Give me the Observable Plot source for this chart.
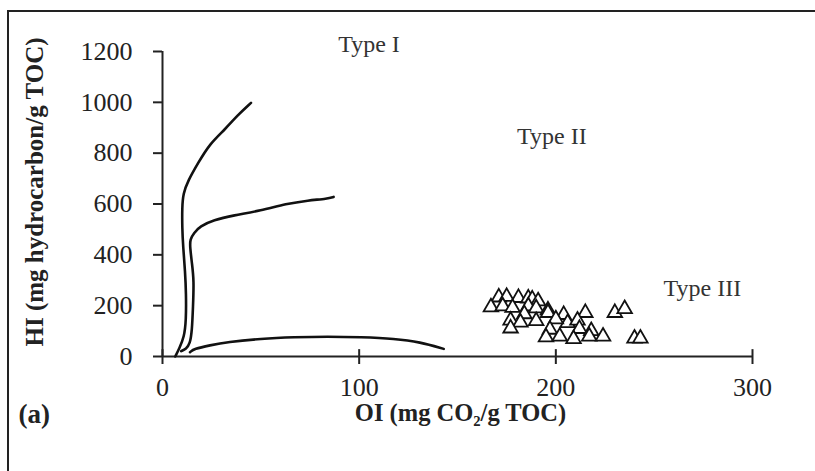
<!DOCTYPE html>
<html>
<head>
<meta charset="utf-8">
<script src="https://cdn.jsdelivr.net/npm/d3@7"></script>
<script src="https://cdn.jsdelivr.net/npm/@observablehq/plot@0.6"></script>
<style>
  html, body { margin: 0; padding: 0; background: #fff; }
  #wrap { position: relative; width: 815px; height: 471px; overflow: hidden; background: #fff; }
  #frame { position: absolute; left: 7px; top: 10px; right: -20px; bottom: -20px;
           border-top: 2.5px solid #222; border-left: 2.5px solid #222; pointer-events: none; }
  #chart { position: absolute; left: 0; top: 0; }
</style>
</head>
<body>
<div id="wrap"><div id="chart"></div><div id="frame"></div></div>
<script>
// Axis ticks
const oiTicks = [0, 100, 200, 300];
const hiTicks = [0, 200, 400, 600, 800, 1000, 1200];

// Kerogen type boundary curves (OI, HI)
const curveTypeI = [[45,998],[38,948],[32,895],[24,837],[18,760],[13,692],[10.5,640],[10,588],[10,507],[10.5,430],[11.5,334],[12,248],[12,142],[11,76],[8.5,31],[6.5,0]];
const curveTypeII = [[87,628],[84,621],[74,614],[63,601],[50,574],[36,555],[26,537],[19,512],[16,486],[14,461],[14,430],[15,365],[16,299],[15.5,193],[15,102],[14,50],[12,30],[9.5,21]];
const curveTypeIII = [[14,17],[16,30],[24,44],[33,57],[50,70],[67,76],[84,79],[101,76],[118,70],[131,57],[143,30]];

// Samples (OI, HI)
const samplesOI = [171,175,181,186,188,191, 167,173,178,186,190,196, 196,204,215,184, 177,182,190,206,211,200, 177,197,212,218, 195,202,209,217,224, 230,235,240,243];
const samplesHI = [233,235,231,229,225,218, 194,198,192,198,190,182, 172,164,172,167, 142,134,140,132,142,147, 111,106,109,101, 76,79,69,79,79, 172,187,71,71];

// Region labels
const typeNames = ["Type I", "Type II", "Type III"];
const typeOI = [105, 198, 274.5];
const typeHI = [1229, 867, 267];

const xLabel = "OI (mg CO\u2082/g TOC)";
const yLabel = "HI (mg hydrocarbon/g TOC)";
const panelLabel = "(a)";

const samples = samplesOI.map((oi, i) => ({oi, hi: samplesHI[i]}));
const types = typeNames.map((name, i) => ({name, oi: typeOI[i], hi: typeHI[i]}));

const ink = "#222";
const chart = Plot.plot({
  width: 815,
  height: 471,
  marginLeft: 162,
  marginRight: 63,
  marginTop: 51,
  marginBottom: 115,
  x: {domain: [0, 300]},
  y: {domain: [0, 1200]},
  style: {fontFamily: "'Liberation Serif', 'Times New Roman', serif", fontSize: "26px", color: ink, background: "transparent", overflow: "visible"},
  marks: [
    Plot.axisY(hiTicks, {tickSize: 9, tickPadding: 21, label: null, strokeWidth: 2, fontSize: 26, tickFormat: d => String(d)}),
    Plot.axisX(oiTicks, {tickSize: 8, tickPadding: 13, label: null, strokeWidth: 2, fontSize: 26, tickFormat: d => String(d)}),
    Plot.ruleX(oiTicks, {x: d => d, y1: 0, y2: 27, strokeWidth: 2, stroke: ink}),
    Plot.ruleY([0], {x1: 0, x2: 300, strokeWidth: 2, stroke: ink}),
    Plot.ruleX([0], {y1: 0, y2: 1200, strokeWidth: 2, stroke: ink}),
    Plot.line(curveTypeI, {x: d => d[0], y: d => d[1], curve: "basis", stroke: "#111", strokeWidth: 2.6}),
    Plot.line(curveTypeII, {x: d => d[0], y: d => d[1], curve: "basis", stroke: "#111", strokeWidth: 2.6}),
    Plot.line(curveTypeIII, {x: d => d[0], y: d => d[1], curve: "basis", stroke: "#111", strokeWidth: 2.6}),
    Plot.dot(samples, {x: "oi", y: "hi", symbol: "triangle", r: 5.4, fill: "white", stroke: "#111", strokeWidth: 1.8}),
    Plot.text(types, {x: "oi", y: "hi", text: "name", fontSize: 24, fill: "#333"}),
    Plot.text([yLabel], {frameAnchor: "left", textAnchor: "middle", lineAnchor: "middle", dx: -128, dy: -12, rotate: -90, fontWeight: "bold", fontSize: 25, fill: ink}),
    Plot.text([xLabel], {frameAnchor: "bottom", textAnchor: "middle", lineAnchor: "middle", dx: 3, dy: 57, fontWeight: "bold", fontSize: 24.5, fill: ink}),
    Plot.text([panelLabel], {frameAnchor: "bottom-left", textAnchor: "start", lineAnchor: "middle", dx: -144, dy: 58, fontWeight: "bold", fontSize: 27, fill: ink})
  ]
});
document.getElementById("chart").appendChild(chart);
</script>
</body>
</html>
